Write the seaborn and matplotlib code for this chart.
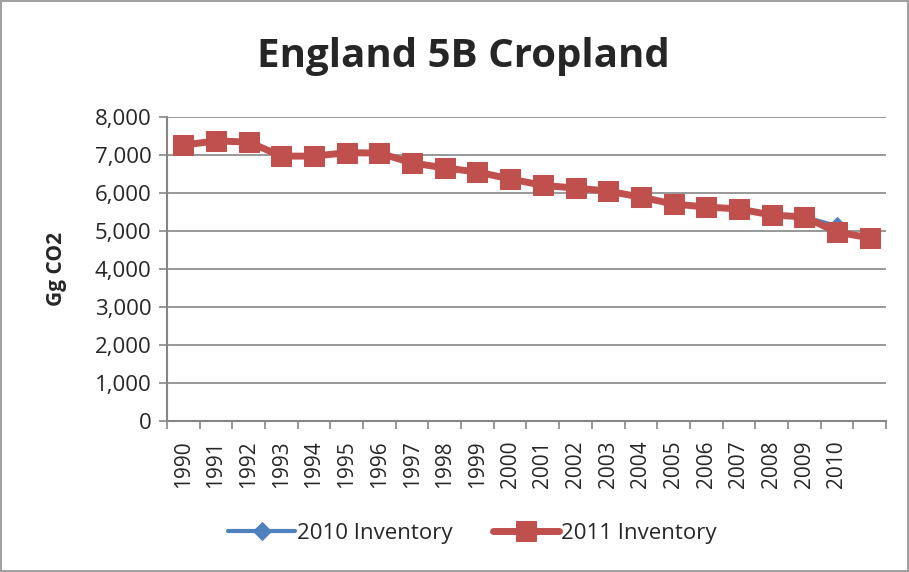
import numpy as np
import pandas as pd
import matplotlib
matplotlib.use("Agg")
import matplotlib.pyplot as plt
from matplotlib.ticker import FuncFormatter, FixedLocator
import seaborn as sns

# values (Gg CO2)
years_2010 = list(range(1990, 2011))
inv_2010 = [7260, 7370, 7340, 6970, 6970, 7060, 7050, 6790, 6660, 6550, 6370,
            6200, 6130, 6050, 5890, 5710, 5630, 5580, 5420, 5370, 5130]
years_2011 = list(range(1990, 2012))
inv_2011 = [7260, 7370, 7340, 6970, 6970, 7060, 7050, 6790, 6660, 6550, 6370,
            6200, 6130, 6050, 5890, 5710, 5630, 5580, 5420, 5370, 4970, 4820]
tick_labels = [str(y) for y in range(1990, 2011)] + [""]

df = pd.concat([
    pd.DataFrame({"year": years_2010, "value": inv_2010, "series": "2010 Inventory"}),
    pd.DataFrame({"year": years_2011, "value": inv_2011, "series": "2011 Inventory"}),
])

sns.set_style("white")
plt.rcParams["font.family"] = ["Open Sans", "DejaVu Sans"]

grid_col = "#868686"
blue = "#4F81BD"
red = "#C0504D"

fig = plt.figure(figsize=(9.09, 5.72), dpi=100)
fig.patch.set_edgecolor("#A0A0A0")
fig.patch.set_linewidth(1.5)
ax = fig.add_axes([0.1837, 0.264, 0.791, 0.5315])

sns.lineplot(data=df[df.series == "2010 Inventory"], x="year", y="value", ax=ax,
             color=blue, linewidth=3, marker="D", markersize=9,
             markeredgecolor=blue, label="2010 Inventory")
sns.lineplot(data=df[df.series == "2011 Inventory"], x="year", y="value", ax=ax,
             color=red, linewidth=5, marker="s", markersize=15,
             markeredgecolor=red, label="2011 Inventory")

ax.set_xlim(1989.5, 2011.5)
ax.set_ylim(0, 8000)
ax.set_yticks(np.arange(0, 8001, 1000))
ax.yaxis.set_major_formatter(FuncFormatter(lambda v, p: f"{int(v):,}"))
ax.grid(axis="y", color=grid_col, linewidth=1.2)
ax.set_axisbelow(True)

ax.xaxis.set_major_locator(FixedLocator(years_2011))
ax.set_xticklabels(tick_labels, rotation=90)
ax.xaxis.set_minor_locator(FixedLocator(np.arange(1989.5, 2012, 1)))
ax.tick_params(axis="x", which="major", length=0, pad=14, labelsize=15)
ax.tick_params(axis="x", which="minor", length=6, width=1.2, color=grid_col, direction="out")
ax.tick_params(axis="y", length=6, width=1.2, color=grid_col, direction="out", labelsize=16, pad=5)
ax.tick_params(bottom=True, left=True, which="both")

for s in ["top", "right"]:
    ax.spines[s].set_visible(False)
for s in ["left", "bottom"]:
    ax.spines[s].set_color(grid_col)
    ax.spines[s].set_linewidth(1.5)

ax.set_xlabel("")
ax.set_ylabel("Gg CO2", fontsize=15, fontweight="bold", labelpad=20)
fig.suptitle("England 5B Cropland", fontsize=29, fontweight="bold", y=0.935, x=0.51)

ax.legend(loc="upper center", bbox_to_anchor=(0.425, -0.27), ncol=2, frameon=False,
          fontsize=16, handlelength=3.0, handletextpad=0.1, columnspacing=1.8)

fig.savefig("out.png", dpi=100)
